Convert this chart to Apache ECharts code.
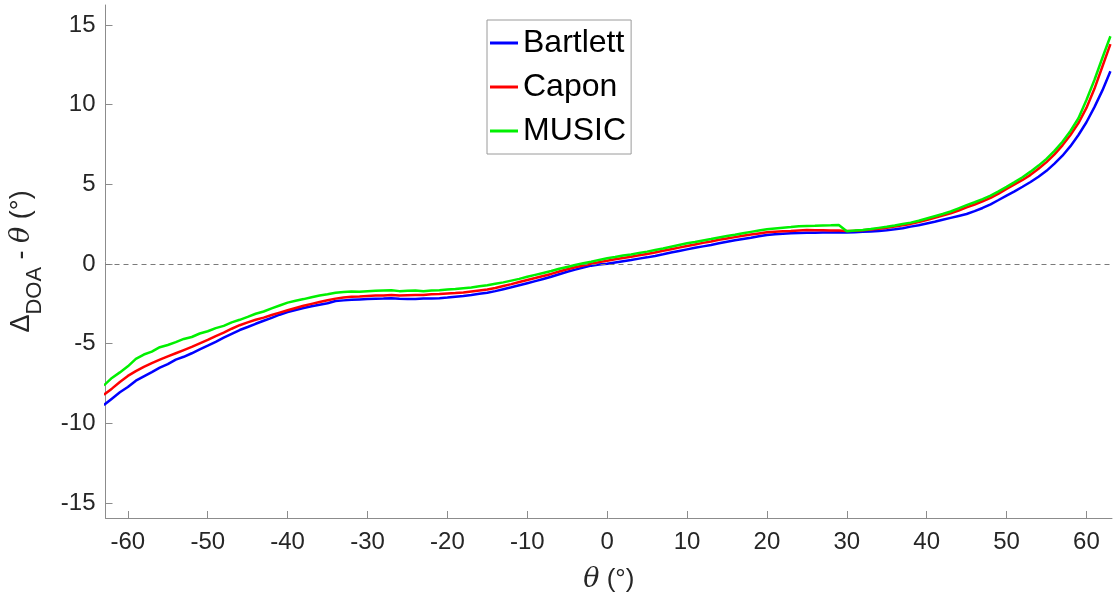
<!DOCTYPE html>
<html>
<head>
<meta charset="utf-8">
<script src="https://cdn.jsdelivr.net/npm/echarts@6/dist/echarts.min.js"></script>
<style>
html,body{margin:0;padding:0;background:#fff;}
#chart{width:1113px;height:601px;}
</style>
</head>
<body>
<div id="chart"></div>
<script>
// theta (degrees)
var thetas = [-63,-62,-61,-60,-59,-58,-57,-56,-55,-54,-53,-52,-51,-50,-49,-48,-47,-46,-45,-44,-43,-42,-41,-40,-39,-38,-37,-36,-35,-34,-33,-32,-31,-30,-29,-28,-27,-26,-25,-24,-23,-22,-21,-20,-19,-18,-17,-16,-15,-14,-13,-12,-11,-10,-9,-8,-7,-6,-5,-4,-3,-2,-1,0,1,2,3,4,5,6,7,8,9,10,11,12,13,14,15,16,17,18,19,20,21,22,23,24,25,26,27,28,29,30,31,32,33,34,35,36,37,38,39,40,41,42,43,44,45,46,47,48,49,50,51,52,53,54,55,56,57,58,59,60,61,62,63];

var bartlett = [-8.85,-8.45,-8.05,-7.72,-7.32,-7.05,-6.78,-6.5,-6.28,-6.0,-5.82,-5.6,-5.35,-5.12,-4.88,-4.62,-4.38,-4.14,-3.95,-3.75,-3.56,-3.38,-3.18,-3.02,-2.88,-2.76,-2.65,-2.55,-2.46,-2.32,-2.28,-2.24,-2.22,-2.2,-2.18,-2.17,-2.15,-2.18,-2.2,-2.19,-2.17,-2.16,-2.14,-2.1,-2.05,-2.0,-1.94,-1.87,-1.8,-1.7,-1.58,-1.46,-1.33,-1.2,-1.07,-0.94,-0.8,-0.64,-0.48,-0.35,-0.22,-0.1,-0.03,0.02,0.1,0.18,0.25,0.34,0.42,0.51,0.61,0.72,0.82,0.92,1.02,1.11,1.2,1.3,1.4,1.49,1.57,1.65,1.74,1.82,1.87,1.9,1.93,1.95,1.96,1.97,1.98,1.98,1.99,1.98,2.0,2.02,2.05,2.08,2.12,2.18,2.25,2.35,2.44,2.55,2.66,2.78,2.9,3.02,3.14,3.32,3.52,3.75,4.02,4.3,4.56,4.85,5.15,5.48,5.85,6.3,6.8,7.4,8.1,8.9,9.85,10.9,12.1];

var capon = [-8.2,-7.82,-7.4,-7.02,-6.72,-6.45,-6.22,-6.0,-5.8,-5.6,-5.4,-5.2,-4.98,-4.76,-4.52,-4.3,-4.06,-3.84,-3.66,-3.5,-3.36,-3.2,-3.05,-2.9,-2.76,-2.62,-2.5,-2.38,-2.27,-2.17,-2.1,-2.05,-2.03,-2.0,-1.98,-1.97,-1.95,-1.97,-1.96,-1.95,-1.94,-1.9,-1.88,-1.85,-1.82,-1.78,-1.72,-1.66,-1.6,-1.5,-1.38,-1.26,-1.13,-1.0,-0.88,-0.75,-0.62,-0.47,-0.33,-0.2,-0.09,0.02,0.12,0.21,0.3,0.38,0.46,0.55,0.63,0.73,0.83,0.93,1.03,1.13,1.23,1.33,1.42,1.52,1.61,1.69,1.77,1.85,1.92,1.99,2.03,2.06,2.08,2.11,2.13,2.12,2.12,2.11,2.1,2.08,2.09,2.12,2.17,2.22,2.28,2.35,2.43,2.52,2.63,2.76,2.9,3.04,3.18,3.36,3.56,3.74,3.94,4.15,4.42,4.72,5.0,5.28,5.6,5.98,6.4,6.88,7.45,8.1,8.85,9.8,11.0,12.4,13.8];

var music = [-7.62,-7.15,-6.8,-6.42,-5.95,-5.68,-5.5,-5.22,-5.08,-4.9,-4.7,-4.58,-4.36,-4.22,-4.02,-3.88,-3.66,-3.5,-3.32,-3.12,-2.98,-2.78,-2.6,-2.42,-2.3,-2.2,-2.08,-1.98,-1.9,-1.8,-1.76,-1.72,-1.74,-1.7,-1.68,-1.66,-1.64,-1.7,-1.68,-1.66,-1.7,-1.66,-1.64,-1.6,-1.57,-1.52,-1.47,-1.4,-1.33,-1.24,-1.15,-1.04,-0.93,-0.8,-0.68,-0.56,-0.44,-0.3,-0.18,-0.06,0.05,0.14,0.26,0.36,0.44,0.53,0.6,0.7,0.78,0.88,0.97,1.08,1.19,1.3,1.38,1.48,1.57,1.67,1.76,1.84,1.93,2.02,2.1,2.18,2.23,2.28,2.32,2.37,2.39,2.4,2.42,2.43,2.45,2.06,2.1,2.14,2.2,2.27,2.34,2.42,2.51,2.6,2.72,2.86,3.0,3.14,3.3,3.5,3.7,3.88,4.08,4.3,4.56,4.84,5.14,5.45,5.8,6.18,6.6,7.1,7.68,8.35,9.15,10.3,11.55,12.95,14.3];

var seriesNames = ['Bartlett','Capon','MUSIC'];
var seriesColors = ['#0000ff','#ff0000','#00f000'];
var xTicks = [-60,-50,-40,-30,-20,-10,0,10,20,30,40,50,60];
var yTicks = [-15,-10,-5,0,5,10,15];

function zip(xs, ys){ var out=[]; for (var i=0;i<xs.length;i++) out.push([xs[i], ys[i]]); return out; }

var FONT = '"Liberation Sans", Arial, Helvetica, sans-serif';
var textColor = '#262626';
var axisColor = '#8c8c8c';

var chart = echarts.init(document.getElementById('chart'), null, {renderer:'canvas'});
var allData = [bartlett, capon, music];
var series = seriesNames.map(function(name, i){
  var s = {
    name: name, type: 'line', data: zip(thetas, allData[i]),
    showSymbol: false, symbol: 'none', animation: false,
    lineStyle: {color: seriesColors[i], width: 2.5},
    itemStyle: {color: seriesColors[i]},
    z: 3 + i
  };
  if (i === 0) {
    s.markLine = {
      silent: true, symbol: 'none', animation: false,
      label: {show: false},
      lineStyle: {color: '#7a7a7a', type: [5, 4], width: 1},
      data: [{yAxis: 0}]
    };
  }
  return s;
});

chart.setOption({
  backgroundColor: '#ffffff',
  animation: false,
  textStyle: {fontFamily: FONT},
  grid: {left: 103, right: 1, top: 5, bottom: 83, containLabel: false},
  legend: {
    orient: 'vertical', left: 487, top: 20,
    data: seriesNames.map(function(n){ return {name: n, icon: 'rect'}; }),
    itemWidth: 28, itemHeight: 3, itemGap: 10, itemTextGap: 4,
    padding: [6, 5, 6, 3],
    backgroundColor: '#ffffff', borderColor: '#9a9a9a', borderWidth: 1,
    textStyle: {fontSize: 32, color: '#000000', fontFamily: FONT, lineHeight: 34}
  },
  xAxis: {
    type: 'value', min: -62.8, max: 63.2,
    name: '{i|θ}{a| (°)}', nameLocation: 'middle', nameGap: 48,
    nameTextStyle: {rich: {
      i: {fontSize: 27, fontStyle: 'italic', fontFamily: '"DejaVu Serif", "Liberation Serif", serif', color: textColor},
      a: {fontSize: 26, color: textColor, fontFamily: FONT}
    }},
    axisLine: {show: true, onZero: false, lineStyle: {color: axisColor, width: 1}},
    axisTick: {show: true, inside: true, length: 7, lineStyle: {color: axisColor}, customValues: xTicks},
    axisLabel: {customValues: xTicks, fontSize: 24, color: textColor, margin: 12, fontFamily: FONT},
    splitLine: {show: false}
  },
  yAxis: {
    type: 'value', min: -15.94, max: 16.26,
    name: '{a|Δ}{b|DOA}{a| - }{i|θ}{a| (°)}', nameLocation: 'middle', nameGap: 60, nameRotate: 90,
    nameTextStyle: {rich: {
      a: {fontSize: 27, color: textColor, fontFamily: FONT},
      b: {fontSize: 22, color: textColor, fontFamily: FONT, padding: [26, 0, 0, 0]},
      i: {fontSize: 27, fontStyle: 'italic', fontFamily: '"DejaVu Serif", "Liberation Serif", serif', color: textColor}
    }},
    axisLine: {show: true, onZero: false, lineStyle: {color: axisColor, width: 1}},
    axisTick: {show: true, inside: true, length: 7, lineStyle: {color: axisColor}, customValues: yTicks},
    axisLabel: {customValues: yTicks, fontSize: 24, color: textColor, margin: 10, fontFamily: FONT},
    splitLine: {show: false}
  },
  series: series
});
</script>
</body>
</html>
